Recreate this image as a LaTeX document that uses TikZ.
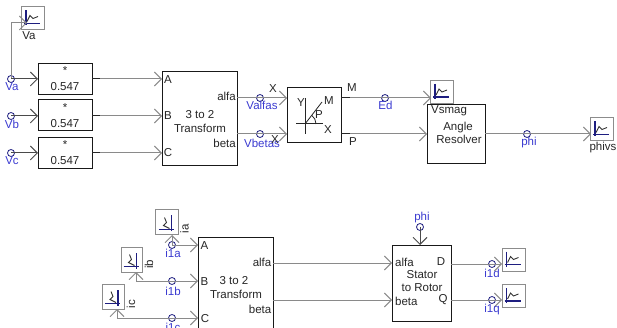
\documentclass[tikz,border=0pt]{standalone}
\usepackage{fontspec}
\setmainfont{Liberation Sans}
\usetikzlibrary{arrows.meta}
\definecolor{wire}{HTML}{8A8A8A}
\definecolor{dkwire}{HTML}{4A4A4A}
\definecolor{lblue}{HTML}{3A3AD0}
\definecolor{navy}{HTML}{1E1E80}
\definecolor{mbox}{HTML}{8C8C8C}
\tikzset{
  every node/.style={font=\fontsize{11.5}{12}\selectfont,inner sep=0pt,text=black!85},
  block/.style={draw=black!90,line width=1pt,fill=white,rectangle},
  meter/.style={draw=mbox,line width=1pt,fill=white,rectangle,minimum width=23pt,minimum height=23pt},
  probe/.style={circle,draw=navy,line width=.8pt,minimum size=7pt,fill=none},
  wirepath/.style={draw=wire,line width=1pt},
  darkpath/.style={draw=dkwire,line width=1pt},
  stub/.style={draw=black!85,line width=1pt},
  tip/.style={-{Straight Barb[length=7pt,width=14pt,line width=.9pt]}},
  blabel/.style={text=lblue},
  icon/.pic={
    \draw[navy,line width=1.1pt] (-7,-8) -- (-7,7) (-9,5) -- (7,5);
    \draw[black!80,line width=.9pt] (-6,3) -- (-3,-3) -- (0,0) -- (5,-2);
  }
}
\begin{document}
\begin{tikzpicture}[x=1pt,y=-1pt]
\useasboundingbox (0,0) rectangle (617,328);
\clip (0,0) rectangle (617,328);
% top row blocks
\node[block,minimum width=54pt,minimum height=31pt] (g1) at (65,79) {};
\node[block,minimum width=54pt,minimum height=31pt] (g2) at (65,115.5) {};
\node[block,minimum width=54pt,minimum height=31pt] (g3) at (65,153) {};
\foreach \n/\y in {g1/79,g2/116,g3/153}{
  \node (\n s) at (65,\y-8) {*};
  \node (\n v) at (65,\y+8) {0.547};
}
\node[block,minimum width=75pt,minimum height=94pt] (T1) at (199.5,119) {};
\node (T1a) at (168,79.5) {A};
\node (T1b) at (168,116) {B};
\node (T1c) at (168,153) {C};
\node (T1t) at (200,115) {3 to 2};
\node (T1u) at (200,128) {Transform};
\node[anchor=east] (T1p) at (236,96.5) {alfa};
\node[anchor=east] (T1q) at (236,143) {beta};
\node[block,minimum width=54pt,minimum height=55pt] (R) at (314,115.5) {};
\node (Ry) at (301,103) {Y};
\node (Rm) at (329,100.5) {M};
\node (Rp) at (319,114.5) {P};
\node (Rx) at (328,130) {X};
\draw[black!85,line width=1pt] (305,98) -- (305,134) (296,124) -- (323,124);
\draw[black!85,line width=.8pt] (305,124) -- (322,102);
\draw[black!85,line width=.8pt] (316,124) arc[start angle=0,end angle=-52,radius=11];
\node[block,minimum width=58pt,minimum height=59pt] (AR) at (456,134.5) {};
\node (ARs) at (449,111) {Vsmag};
\node (ARa) at (458,127.5) {Angle};
\node (ARb) at (459,139.5) {Resolver};
% meters
\node[meter] (mVa) at (33,18.5) {};
\node[meter] (mVs) at (442,92) {};
\node[meter] (mPh) at (602,129.5) {};
\node[meter] (md) at (513.5,259.5) {};
\node[meter] (mq) at (513.5,296) {};
\node[meter,minimum height=25pt] (mia) at (166.5,222.5) {};
\node[meter,minimum width=21pt,minimum height=25pt] (mib) at (131.5,259.5) {};
\node[meter,minimum width=22pt,minimum height=25pt] (mic) at (113,296.5) {};
\foreach \m in {mVa,mVs,mPh,md,mq} \pic at (\m) {icon};
\foreach \m in {mia,mib,mic} \pic[rotate=90] at (\m) {icon};
% probes top
\node[probe] (pa) at (11,79) {};
\node[probe] (pb) at (11,116) {};
\node[probe] (pc) at (11,153) {};
\node[probe] (pal) at (260,98) {};
\node[probe] (pbe) at (260,134) {};
\node[probe] (ped) at (385,98) {};
\node[probe] (pph) at (527,134) {};
% coordinates for pins
\coordinate (Aa) at (162,79);
\coordinate (Ab) at (162,116);
\coordinate (Ac) at (162,153);
\coordinate (Oa) at (237,98);
\coordinate (Ob) at (237,134);
\coordinate (Ri1) at (287,98);
\coordinate (Ri2) at (287,134);
\coordinate (Ro1) at (341,98);
\coordinate (Ro2) at (341,134);
\coordinate (So1) at (350,98);
\coordinate (So2) at (350,134);
\coordinate (Vin) at (431,98);
\coordinate (Pin) at (427,134);
\coordinate (Pout) at (485,134);
\coordinate (Pm) at (591,134);
% top wires
\draw[wirepath,tip] (pa.center) -- (11,23) -- (27,23);
\draw[darkpath,tip] (pa.center) -- (38,79);
\draw[darkpath,tip] (pb.center) -- (38,116);
\draw[darkpath,tip] (pc.center) -- (38,153);
\foreach \y/\p in {79/Aa,116/Ab,153/Ac}{
  \draw[wirepath,tip] (100,\y) -- (\p);
  \draw[stub] (92,\y) -- (100,\y);
}
\draw[wirepath,tip] (Oa) -- (Ri1);
\draw[wirepath,tip] (Ob) -- (Ri2);
\draw[stub] (Ro1) -- (So1);
\draw[stub] (Ro2) -- (So2);
\draw[wirepath,tip] (So1) -- (Vin);
\draw[wirepath,tip] (So2) -- (Pin);
\draw[wirepath,tip] (Pout) -- (Pm);
% top labels
\node[blabel] (la) at (12,87) {Va};
\node[blabel] (lb) at (12,124) {Vb};
\node[blabel] (lc) at (12,161) {Vc};
\node (lVa) at (29,36) {Va};
\node[blabel] (lal) at (262,105.5) {Valfas};
\node[blabel] (lbe) at (262,143) {Vbetas};
\node (xa) at (273,89) {X};
\node (xb) at (275,140) {X};
\node (lm) at (352,88) {M};
\node (lp) at (353,142) {P};
\node[blabel] (led) at (385.5,105.5) {Ed};
\node[blabel] (lph) at (529,143) {phi};
\node (lpv) at (603,148) {phivs};
% lower blocks
\node[block,minimum width=75pt,minimum height=95pt] (T2) at (235.5,285.5) {};
\node (T2a) at (204.5,246) {A};
\node (T2b) at (204.5,281.5) {B};
\node (T2c) at (205,318.5) {C};
\node (T2t) at (234,281) {3 to 2};
\node (T2u) at (236,294.5) {Transform};
\node[anchor=east] (T2p) at (271.5,262.5) {alfa};
\node[anchor=east] (T2q) at (271.5,309) {beta};
\node[block,minimum width=59pt,minimum height=76pt] (S) at (421.5,283) {};
\node[anchor=west] (Sa) at (395,262) {alfa};
\node[anchor=west] (Sb) at (395,301) {beta};
\node (Sd) at (441,262) {D};
\node (Sq) at (443,299.5) {Q};
\node (St) at (422,274.5) {Stator};
\node (Su) at (422,287.5) {to Rotor};
% lower probes
\node[probe] (p1a) at (172,245) {};
\node[probe] (p1b) at (172,281) {};
\node[probe] (p1c) at (172,318) {};
\node[probe] (pphi) at (420,227) {};
\node[probe] (p1d) at (492,264) {};
\node[probe] (p1q) at (492,300) {};
\coordinate (Ba) at (198,245);
\coordinate (Bb) at (198,281);
\coordinate (Bc) at (198,318);
\coordinate (BOa) at (273,263);
\coordinate (BOb) at (273,300);
\coordinate (Sia) at (392,263);
\coordinate (Sib) at (392,300);
\coordinate (Soa) at (451,264);
\coordinate (Sob) at (451,300);
\coordinate (Stop) at (420,245);
\draw[wirepath,tip] (p1a.center) -- (Ba);
\draw[wirepath,tip] (p1b.center) -- (Bb);
\draw[wirepath,tip] (p1c.center) -- (Bc);
\draw[wirepath,tip] (p1a.center) -- (172,235);
\draw[wirepath,tip] (p1b.center) -- (136,281) -- (136,272);
\draw[wirepath,tip] (p1c.center) -- (117,318) -- (117,309);
\draw[wirepath,tip] (BOa) -- (Sia);
\draw[wirepath,tip] (BOb) -- (Sib);
\draw[darkpath,tip] (pphi.center) -- (Stop);
\draw[wirepath,tip] (Soa) -- (502,264);
\draw[wirepath,tip] (Sob) -- (502,300);
% lower labels
\node[blabel] (l1a) at (173,253.5) {i1a};
\node[blabel] (l1b) at (173,291) {i1b};
\node[blabel] (l1c) at (173,327.5) {i1c};
\node[blabel] (lphi) at (422,218) {phi};
\node[blabel] (l1d) at (492,273) {i1d};
\node[blabel] (l1q) at (492,309.5) {i1q};
\node[rotate=90] (lia) at (184.5,229) {ia};
\node[rotate=90] (lib) at (149,264.5) {ib};
\node[rotate=90] (lic) at (131,304) {ic};
\end{tikzpicture}
\end{document}
